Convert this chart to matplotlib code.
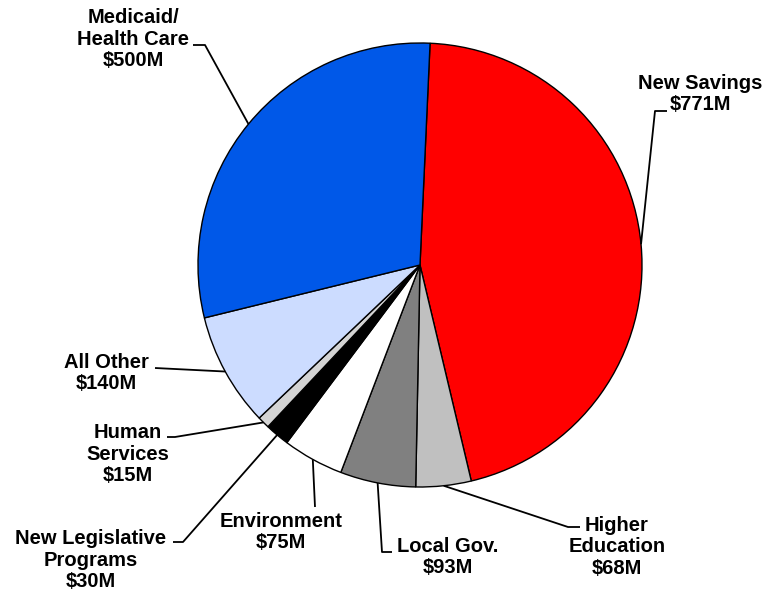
import numpy as np
import matplotlib
matplotlib.use('Agg')
import matplotlib.pyplot as plt

plt.rcParams['font.family'] = ['Liberation Sans', 'DejaVu Sans']

labels = ['New Savings\n$771M', 'Higher\nEducation\n$68M', 'Local Gov.\n$93M',
          'Environment\n$75M', 'New Legislative\nPrograms\n$30M',
          'Human\nServices\n$15M', 'All Other\n$140M',
          'Medicaid/\nHealth Care\n$500M']
values = [771, 68, 93, 75, 30, 15, 140, 500]
colors = ['#ff0000', '#c0c0c0', '#808080', '#ffffff', '#000000',
          '#d4d4d4', '#ccdcff', '#0058e8']

W, H = 765, 592
CX, CY, R = 420, 265, 222   # pie centre and radius in pixels


def px(x, y):
    # pixel position (from top-left) -> data units of the pie
    return (x - CX) / R, (CY - y) / R


fig = plt.figure(figsize=(W / 100, H / 100), dpi=100)
ax = fig.add_axes([0, 0, 1, 1])

wedges, _ = ax.pie(values, colors=colors, startangle=87.4, counterclock=False,
                   radius=1.0, wedgeprops=dict(edgecolor='black', linewidth=1.0))

ax.set_aspect('auto')
ax.set_xlim(-CX / R, (W - CX) / R)
ax.set_ylim(-(H - CY) / R, CY / R)
ax.axis('off')

# label centre, elbow points of the leader line (pixels)
layout = [
    ((700, 94), [(655, 111), (667, 111)]),
    ((617, 547), [(568, 527), (580, 527)]),
    ((448, 557), [(382, 552), (392, 552)]),
    ((281, 532), [(315, 507)]),
    ((91, 560), [(183, 542), (173, 542)]),
    ((128, 454), [(175, 437), (167, 437)]),
    ((106, 373), [(155, 368)]),
    ((133, 39), [(205, 45), (193, 45)]),
]

for w, lab, (pos, elbows) in zip(wedges, labels, layout):
    mid = np.deg2rad((w.theta1 + w.theta2) / 2)
    xs = [np.cos(mid)]
    ys = [np.sin(mid)]
    for e in elbows:
        ex, ey = px(*e)
        xs.append(ex)
        ys.append(ey)
    ax.plot(xs, ys, color='black', linewidth=1.3, solid_capstyle='butt')
    tx, ty = px(*pos)
    ax.text(tx, ty, lab, ha='center', va='center', fontsize=14.5,
            fontweight='bold', linespacing=1.17)

fig.savefig('out.png', dpi=100)
